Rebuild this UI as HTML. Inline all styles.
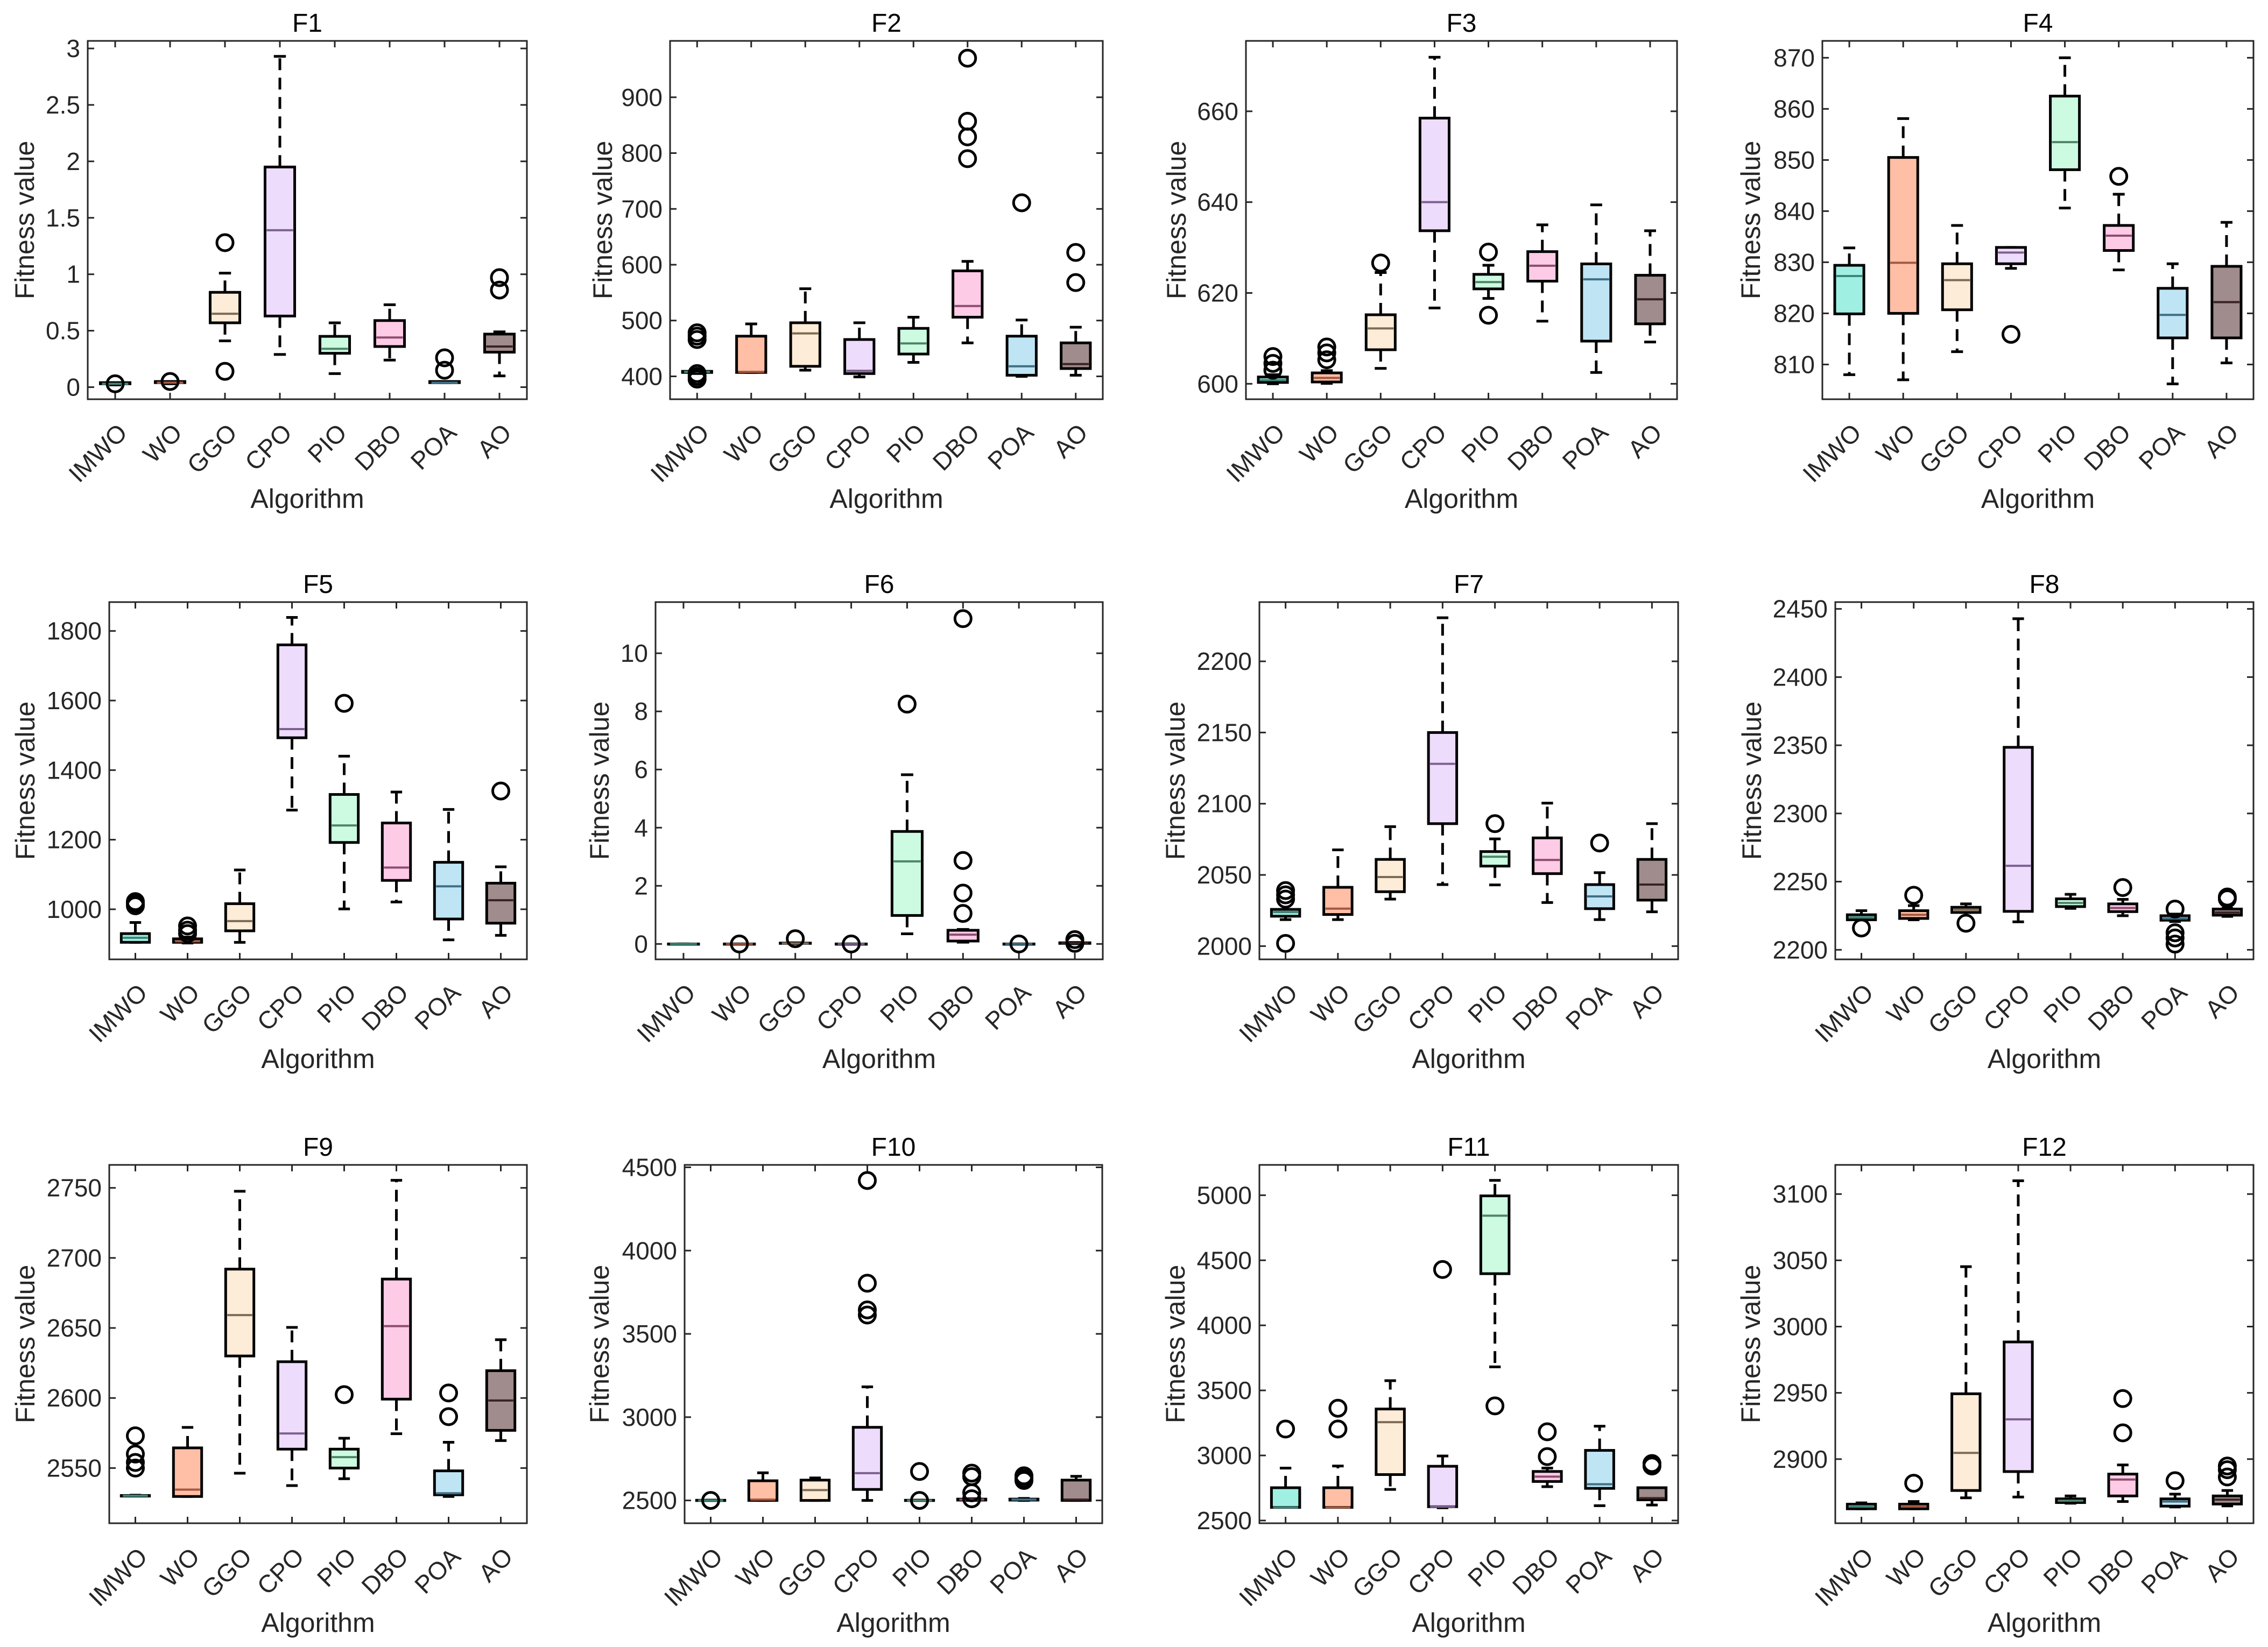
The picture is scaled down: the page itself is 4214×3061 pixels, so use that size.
<!DOCTYPE html>
<html><head><meta charset="utf-8">
<style>
html,body{margin:0;padding:0;background:#fff;}
svg{display:block;font-family:"Liberation Sans",Arial,sans-serif;}
</style></head>
<body>
<svg id="fig" width="4214" height="3061" viewBox="0 0 4214 3061" xmlns="http://www.w3.org/2000/svg">
<rect width="4214" height="3061" fill="#ffffff"/>
</svg>
<script>
// ---- data ----
const categories = ["IMWO","WO","GGO","CPO","PIO","DBO","POA","AO"];
// stats per algorithm: [lowWhisker, q1, median, q3, highWhisker]
const F1_stats = [[0.02,0.03,0.03,0.04,0.04],[0.03,0.04,0.04,0.05,0.05],[0.41,0.57,0.65,0.84,1.01],[0.29,0.63,1.39,1.95,2.93],[0.12,0.30,0.34,0.45,0.57],[0.24,0.36,0.44,0.59,0.73],[0.04,0.04,0.04,0.05,0.05],[0.10,0.31,0.36,0.47,0.49]];
const F1_out = [[0.03],[0.05],[1.28,0.14],[],[],[],[0.15,0.26],[0.86,0.97]];
const F2_stats = [[405,407,408,409,410],[407,407,408,472,494],[411,418,477,496,557],[399,405,410,466,496],[425,440,459,486,506],[460,506,526,589,606],[400,402,418,472,501],[402,414,422,460,488]];
const F2_out = [[395,400,405,466,472,478],[],[],[],[],[790,829,857,970],[711],[568,622]];
const F3_stats = [[600,600.3,600.8,601.5,602],[600.1,600.4,601.3,602.4,602.9],[603.4,607.5,612.2,615.2,624.5],[616.7,633.7,640,658.5,671.9],[618.8,620.9,622.4,624.1,626.1],[613.8,622.6,626,629.1,635],[602.5,609.4,623,626.4,639.4],[609.2,613.2,618.6,623.9,633.7]];
const F3_out = [[603,604.5,606],[605.3,606.8,608.1],[626.6],[],[629,615.1],[],[],[]];
const F4_stats = [[808,819.9,827.3,829.4,832.8],[807,820,829.9,850.5,858.1],[812.5,820.7,826.5,829.7,837.2],[828.8,829.7,831.9,832.9,832.9],[840.6,848.1,853.5,862.5,870],[828.5,832.3,835.2,837.2,843.3],[806.2,815.2,819.7,824.9,829.7],[810.3,815.2,822.2,829.2,837.8]];
const F4_out = [[],[],[],[815.9],[],[846.8],[],[]];
const F5_stats = [[905,905,918,930,962],[903,905,908,915,920],[905,938,966,1016,1113],[1285,1493,1518,1760,1839],[1001,1192,1241,1330,1440],[1021,1083,1120,1248,1337],[912,972,1066,1135,1287],[925,960,1026,1075,1122]];
const F5_out = [[1010,1016,1022],[930,940,952],[],[],[1592],[],[],[1340]];
const F6_stats = [[0,0,0,0,0],[0,0,0,0,0],[0.01,0.02,0.02,0.03,0.04],[0,0,0,0,0],[0.35,0.98,2.84,3.87,5.82],[0.06,0.1,0.32,0.47,0.5],[0,0,0,0,0],[0.01,0.02,0.03,0.04,0.05]];
const F6_out = [[],[0],[0.18],[0],[8.25],[1.05,1.75,2.87,11.19],[0],[0.02,0.15]];
const F7_stats = [[2018.6,2021,2023.9,2025.8,2025.8],[2018.6,2022.2,2026.3,2041.3,2067.6],[2033,2038.2,2048.5,2060.9,2083.9],[2043.2,2086,2128,2150,2230.6],[2043,2056.2,2062.8,2066.4,2075.3],[2030.6,2050.9,2060.5,2076,2100.4],[2018.6,2026.3,2034.9,2043.2,2051.6],[2024.1,2032.3,2043.2,2060.9,2086]];
const F7_out = [[2001.9,2033,2036,2039],[],[],[],[2086],[],[2072.4],[]];
const F8_stats = [[2222,2222,2223.7,2225.7,2228.7],[2222,2223,2225.7,2228.7,2232.4],[2227.4,2227.4,2229.4,2231.2,2233.7],[2220.5,2228.2,2261.6,2348.5,2442.8],[2230.4,2231.7,2234.4,2237.4,2240.7],[2225,2228,2230.7,2233.7,2237],[2220.7,2221.7,2223,2225,2226.2],[2224.5,2225.4,2227.4,2229.9,2230.4]];
const F8_out = [[2216],[2240],[2219.5],[],[],[2245.7],[2229.9,2212.5,2208.7,2204.2],[2237.4,2238.7]];
const F9_stats = [[2530,2530,2530.2,2530.4,2530.6],[2529.7,2529.7,2534.6,2564.4,2579],[2546.3,2630,2659.2,2692,2747.6],[2537.5,2563.5,2574.7,2625.9,2650.4],[2542.4,2550,2557.8,2563.5,2571.3],[2574.5,2599.2,2651.3,2684.9,2755.4],[2529.7,2530.9,2532,2548,2568.4],[2569.6,2576.9,2598.2,2619.5,2641.6]];
const F9_out = [[2550,2554,2560,2573],[],[],[],[2602.4],[],[2586.7,2603.6],[]];
const F10_stats = [[2500,2500,2500,2501,2502],[2500,2500,2505,2618,2666],[2500,2500,2562,2622,2635],[2500,2566,2664,2939,3182],[2500,2500,2500,2501,2502],[2500,2502,2505,2508,2510],[2500,2502,2505,2508,2512],[2500,2500,2505,2622,2645]];
const F10_out = [[2500],[],[],[3613,3644,3804,4421],[2500,2674],[2510,2546,2643,2664],[2620,2632,2648],[]];
const F11_stats = [[2601,2601,2601,2752,2903],[2601,2601,2601,2752,2919],[2739,2853,3256,3357,3575],[2598,2606,2606,2917,2996],[3681,4397,4843,4995,5114],[2760,2800,2837,2877,2903],[2614,2747,2779,3039,3225],[2619,2659,2672,2752,2752]];
const F11_out = [[3203],[3203,3363],[],[4429],[3381],[2991,3182],[],[2919,2938]];
const F12_stats = [[2862.5,2862.5,2864.5,2866,2867],[2862.5,2862.5,2864.5,2866,2868],[2870.8,2876.3,2904.7,2949.3,3045.2],[2871.4,2890.6,2930,2988.4,3110],[2866.7,2867.2,2868.6,2870,2872.2],[2868,2872.2,2884.6,2888.7,2895.6],[2863.9,2864.5,2868,2870,2873.6],[2864.7,2866.1,2869.4,2872.2,2876.3]];
const F12_out = [[],[2881.8],[],[],[],[2919.8,2945.7],[2883.7],[2886.5,2892,2894.8]];
const F1_ticks = [0,0.5,1,1.5,2,2.5,3];
const F2_ticks = [400,500,600,700,800,900];
const F3_ticks = [600,620,640,660];
const F4_ticks = [810,820,830,840,850,860,870];
const F5_ticks = [1000,1200,1400,1600,1800];
const F6_ticks = [0,2,4,6,8,10];
const F7_ticks = [2000,2050,2100,2150,2200];
const F8_ticks = [2200,2250,2300,2350,2400,2450];
const F9_ticks = [2550,2600,2650,2700,2750];
const F10_ticks = [2500,3000,3500,4000,4500];
const F11_ticks = [2500,3000,3500,4000,4500,5000];
const F12_ticks = [2900,2950,3000,3050,3100];
const yLimits = [[-0.107,3.067],[359,1001],[596.6,675.5],[803.2,873.3],[856,1883],[-0.53,11.76],[1990.7,2241.6],[2193,2455],[2510.6,2766.4],[2363,4514.5],[2479,5233],[2851.6,3122]];

// ---- layout / style (not data) ----
const fills = ["#9ff0e3","#ffbfa6","#fdecd7","#eedcfd","#ccfbe1","#fecbe7","#bfe5f5","#a08c8c"];
const medColors = ["#3d8579","#a5573f","#7d6b55","#7d6190","#4f8467","#8d4d6e","#3f6f84","#3a2222"];
const panels = [
 {t:"F1",l:163,r:979,top:76,b:742,ly:63,st:F1_stats,o:F1_out,tk:F1_ticks},
 {t:"F2",l:1245,r:2049,top:76,b:742,ly:1137,st:F2_stats,o:F2_out,tk:F2_ticks},
 {t:"F3",l:2315,r:3116,top:76,b:742,ly:2203,st:F3_stats,o:F3_out,tk:F3_ticks},
 {t:"F4",l:3386,r:4187,top:76,b:742,ly:3270,st:F4_stats,o:F4_out,tk:F4_ticks},
 {t:"F5",l:203,r:979,top:1119,b:1783,ly:64,st:F5_stats,o:F5_out,tk:F5_ticks},
 {t:"F6",l:1218,r:2049,top:1119,b:1783,ly:1131,st:F6_stats,o:F6_out,tk:F6_ticks},
 {t:"F7",l:2340,r:3118,top:1119,b:1783,ly:2201,st:F7_stats,o:F7_out,tk:F7_ticks},
 {t:"F8",l:3410,r:4187,top:1119,b:1783,ly:3272,st:F8_stats,o:F8_out,tk:F8_ticks},
 {t:"F9",l:203,r:979,top:2165,b:2831,ly:64,st:F9_stats,o:F9_out,tk:F9_ticks},
 {t:"F10",l:1272,r:2048,top:2165,b:2831,ly:1131,st:F10_stats,o:F10_out,tk:F10_ticks},
 {t:"F11",l:2340,r:3118,top:2165,b:2831,ly:2201,st:F11_stats,o:F11_out,tk:F11_ticks},
 {t:"F12",l:3410,r:4187,top:2165,b:2831,ly:3270,st:F12_stats,o:F12_out,tk:F12_ticks}
];
const NS="http://www.w3.org/2000/svg";
const svg=document.getElementById('fig');
function mk(tag,attrs,parent){const e=document.createElementNS(NS,tag);for(const k in attrs)e.setAttribute(k,attrs[k]);(parent||svg).appendChild(e);return e;}

panels.forEach((p,pi)=>{
  const g=mk('g',{});
  
  
  const [y0,y1]=yLimits[pi];
  const w=p.r-p.l;
  const slot=w/categories.length;
  const yS=v=>p.b-(v-y0)/(y1-y0)*(p.b-p.top);
  const xS=i=>p.l+(i+0.5)*slot;
  // title
  const tt=mk('text',{x:(p.l+p.r)/2,y:p.top-17,'text-anchor':'middle','font-size':48,fill:'#000'},g);
  tt.textContent=p.t;
  
  
  // y label
  const yl=mk('text',{x:p.ly,y:(p.top+p.b)/2,'text-anchor':'middle','font-size':50,fill:'#262626',transform:`rotate(-90 ${p.ly} ${(p.top+p.b)/2})`},g);
  yl.textContent='Fitness value';
  
  
  // x label
  const xl=mk('text',{x:(p.l+p.r)/2,y:p.b+202,'text-anchor':'middle','font-size':50,fill:'#262626'},g);
  xl.textContent='Algorithm';
  
  
  // y ticks
  p.tk.forEach(v=>{
    const y=yS(v);
    mk('line',{x1:p.l,x2:p.l+12,y1:y,y2:y,stroke:'#262626','stroke-width':3},g);
    mk('line',{x1:p.r,x2:p.r-12,y1:y,y2:y,stroke:'#262626','stroke-width':3},g);
    const tl=mk('text',{x:p.l-14,y:y+16,'text-anchor':'end','font-size':46,fill:'#262626'},g);
    tl.textContent=String(v);
    
    
  });
  // x ticks + labels
  categories.forEach((c,i)=>{
    const x=xS(i);
    mk('line',{x1:x,x2:x,y1:p.b,y2:p.b-12,stroke:'#262626','stroke-width':3},g);
    mk('line',{x1:x,x2:x,y1:p.top,y2:p.top+12,stroke:'#262626','stroke-width':3},g);
    const lx=x+25, ly=p.b+65;
    const tl=mk('text',{x:lx,y:ly,'text-anchor':'end','font-size':46,fill:'#262626',transform:`rotate(-45 ${lx} ${ly})`},g);
    tl.textContent=c;
    
    
  });
  // boxes
  const bw=slot*0.54, cw=slot*0.22;
  p.st.forEach((s,i)=>{
    const x=xS(i);
    const [lo,q1,md,q3,hi]=s;
    const bg=mk('g',{},g);
    
    
    mk('line',{x1:x,x2:x,y1:yS(q3),y2:yS(hi),stroke:'#000','stroke-width':5,'stroke-dasharray':'22 14'},bg);
    mk('line',{x1:x,x2:x,y1:yS(q1),y2:yS(lo),stroke:'#000','stroke-width':5,'stroke-dasharray':'22 14'},bg);
    mk('line',{x1:x-cw/2,x2:x+cw/2,y1:yS(hi),y2:yS(hi),stroke:'#000','stroke-width':5},bg);
    mk('line',{x1:x-cw/2,x2:x+cw/2,y1:yS(lo),y2:yS(lo),stroke:'#000','stroke-width':5},bg);
    const yt=yS(q3), yb=yS(q1);
    mk('rect',{x:x-bw/2,y:yt,width:bw,height:Math.max(yb-yt,0.5),fill:fills[i],stroke:'#000','stroke-width':5},bg);
    mk('line',{x1:x-bw/2+3,x2:x+bw/2-3,y1:yS(md),y2:yS(md),stroke:medColors[i],'stroke-width':4},bg);
    p.o[i].forEach(v=>{
      const c=mk('circle',{cx:x,cy:yS(v),r:15,fill:'none',stroke:'#000','stroke-width':5},bg);
      
      
    });
  });
  // axes box
  const ab=mk('rect',{x:p.l,y:p.top,width:w,height:p.b-p.top,fill:'none',stroke:'#262626','stroke-width':3},g);
  
  
});
</script>
</body></html>
